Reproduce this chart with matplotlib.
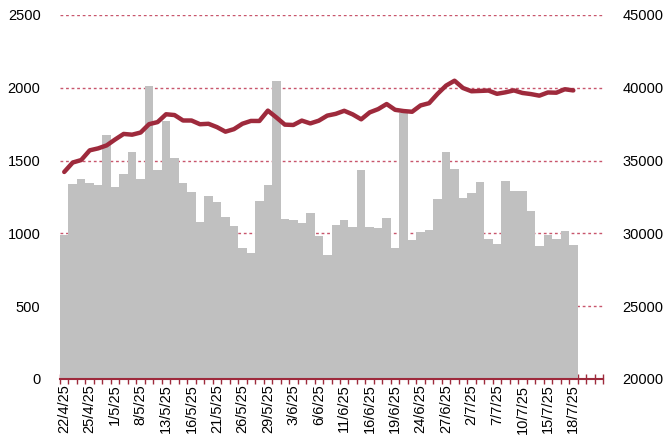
import matplotlib
matplotlib.use("Agg")
import matplotlib.pyplot as plt
import numpy as np

# trading days (Japan), 22/4/25 - 18/7/25
dates = [
    "22/4/25", "23/4/25", "24/4/25", "25/4/25", "28/4/25", "30/4/25",
    "1/5/25", "2/5/25", "7/5/25", "8/5/25", "9/5/25", "12/5/25", "13/5/25",
    "14/5/25", "15/5/25", "16/5/25", "19/5/25", "20/5/25", "21/5/25",
    "22/5/25", "23/5/25", "26/5/25", "27/5/25", "28/5/25", "29/5/25",
    "30/5/25", "2/6/25", "3/6/25", "4/6/25", "5/6/25", "6/6/25", "9/6/25",
    "10/6/25", "11/6/25", "12/6/25", "13/6/25", "16/6/25", "17/6/25",
    "18/6/25", "19/6/25", "20/6/25", "23/6/25", "24/6/25", "25/6/25",
    "26/6/25", "27/6/25", "30/6/25", "1/7/25", "2/7/25", "3/7/25", "4/7/25",
    "7/7/25", "8/7/25", "9/7/25", "10/7/25", "11/7/25", "14/7/25",
    "15/7/25", "16/7/25", "17/7/25", "18/7/25",
]

# bars, left axis
volume = [
    990, 1337, 1371, 1348, 1330, 1676, 1321, 1408, 1561, 1371, 2012, 1433,
    1772, 1520, 1348, 1284, 1080, 1259, 1218, 1113, 1051, 898, 863, 1225,
    1330, 2049, 1097, 1095, 1069, 1140, 984, 852, 1058, 1094, 1042, 1433,
    1042, 1035, 1103, 898, 1829, 957, 1007, 1025, 1234, 1561, 1442, 1241,
    1277, 1355, 964, 929, 1362, 1293, 1293, 1154, 913, 989, 964, 1016, 920,
]

# line, right axis
index_close = [
    34220, 34868, 35039, 35705, 35840, 36045, 36452, 36831, 36780, 36928,
    37503, 37644, 38183, 38128, 37755, 37753, 37498, 37529, 37299, 36986,
    37160, 37532, 37724, 37722, 38432, 37965, 37470, 37446, 37747, 37554,
    37741, 38089, 38211, 38421, 38173, 37834, 38311, 38536, 38885, 38488,
    38403, 38354, 38790, 38942, 39584, 40150, 40487, 39986, 39762, 39785,
    39811, 39587, 39689, 39821, 39646, 39569, 39460, 39679, 39663, 39901,
    39819,
]

left_ticks = [0, 500, 1000, 1500, 2000, 2500]
right_ticks = [20000, 25000, 30000, 35000, 40000, 45000]

red = "#9E2A3C"
grid_red = "#C8566C"
n_slots = len(dates) + 3  # axis runs three empty days past the last bar

plt.rcParams["font.family"] = ["Liberation Sans", "DejaVu Sans"]
plt.rcParams["font.size"] = 10.5

fig = plt.figure(figsize=(6.65, 4.45), dpi=100)
ax = fig.add_axes([60 / 665, 1 - 379 / 445, 543 / 665, 364 / 445])

x = np.arange(len(dates))
ax.bar(x, volume, width=1.0, color="#C0C0C0", linewidth=0)
ax.set_xlim(-0.5, n_slots - 0.5)
ax.set_ylim(0, 2500)
ax.set_yticks(left_ticks)
ax.set_axisbelow(True)
ax.yaxis.grid(True, color=grid_red, linestyle=(0, (2, 2)), linewidth=1)

# category axis: ticks between every day, labels every third day
ax.set_xticks(x[::3])
ax.set_xticklabels(dates[::3], rotation=90)
ax.set_xticks(np.arange(n_slots + 1) - 0.5, minor=True)
ax.tick_params(axis="x", which="major", length=0, pad=4)
ax.tick_params(axis="x", which="minor", direction="inout", length=7,
               color=red, width=1)
ax.tick_params(axis="y", length=0, pad=14)

for s in ["top", "left", "right"]:
    ax.spines[s].set_visible(False)
ax.spines["bottom"].set_color(red)
ax.spines["bottom"].set_linewidth(1.5)
ax.spines["bottom"].set_zorder(5)

ax2 = ax.twinx()
ax2.plot(x, index_close, color=red, linewidth=3.2, solid_capstyle="round",
         solid_joinstyle="round")
ax2.set_ylim(20000, 45000)
ax2.set_yticks(right_ticks)
ax2.tick_params(axis="y", length=0, pad=14)
for s in ["top", "left", "right", "bottom"]:
    ax2.spines[s].set_visible(False)

fig.savefig("out.png", dpi=100)
